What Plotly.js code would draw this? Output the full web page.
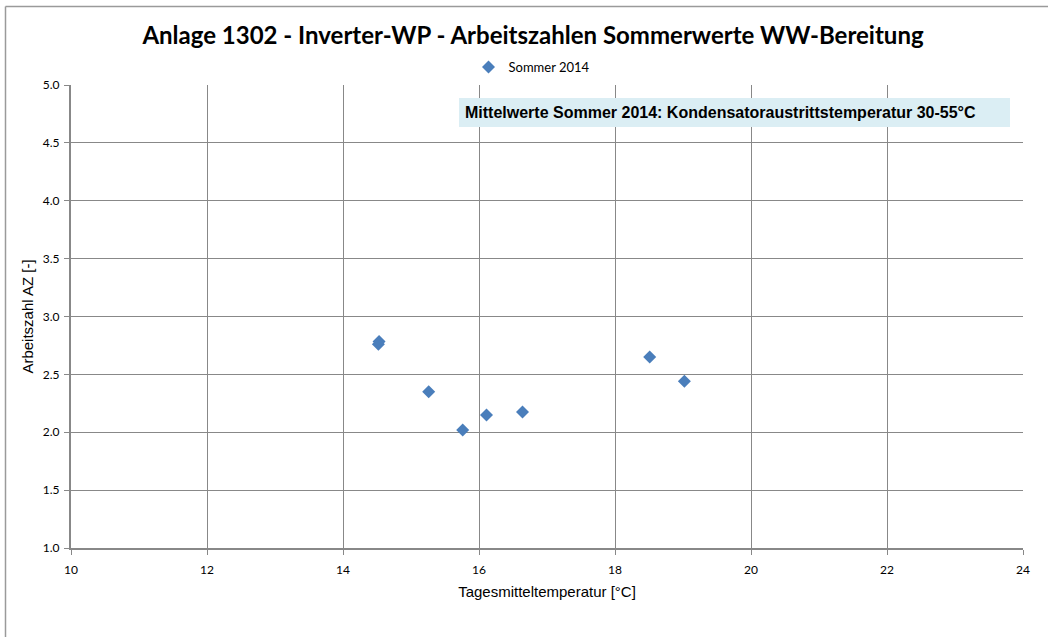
<!DOCTYPE html>
<html>
<head>
<meta charset="utf-8">
<script src="https://cdn.plot.ly/plotly-3.0.1.min.js"></script>
<style>html,body{margin:0;padding:0;background:#fff;}#chart{width:1048px;height:637px;}</style>
</head>
<body>
<div id="chart"></div>
<script>
const seriesName = "Sommer 2014";
const temperature = [14.52, 14.53, 15.26, 15.76, 16.11, 16.64, 18.51, 19.02];
const workFactor = [2.76, 2.785, 2.35, 2.02, 2.15, 2.175, 2.65, 2.44];
const xTicks = [10, 12, 14, 16, 18, 20, 22, 24];
const yTicks = [1.0, 1.5, 2.0, 2.5, 3.0, 3.5, 4.0, 4.5, 5.0];
const titleText = "Anlage 1302 - Inverter-WP - Arbeitszahlen Sommerwerte WW-Bereitung";
const noteText = "Mittelwerte Sommer 2014: Kondensatoraustrittstemperatur 30-55°C";

const W = 1048, H = 637;
const m = {l: 71, r: 25, t: 85, b: 89};
const pw = W - m.l - m.r, ph = H - m.t - m.b;
const px = v => (v - m.l) / pw;
const py = v => 1 - (v - m.t) / ph;

const trace = {
  type: 'scatter', mode: 'markers', name: seriesName,
  x: temperature, y: workFactor,
  marker: {symbol: 'diamond', size: 10, color: '#4A7EBB', line: {width: 0}}
};

const layout = {
  width: W, height: H,
  margin: m,
  paper_bgcolor: '#ffffff', plot_bgcolor: '#ffffff',
  title: {text: '<b>' + titleText + '</b>', x: px(533), xref: 'paper', xanchor: 'center',
          y: 1 - 36/H, yanchor: 'middle',
          font: {family: 'Lato, "Open Sans", sans-serif', size: 24, color: '#000'}},
  showlegend: true,
  legend: {orientation: 'h', x: px(532), xanchor: 'center', y: py(67), yanchor: 'middle',
           font: {family: 'Lato, "Open Sans", sans-serif', size: 13, color: '#000'},
           itemwidth: 30, bgcolor: 'rgba(0,0,0,0)'},
  xaxis: {range: [10, 24], tickvals: xTicks, ticktext: xTicks.map(String),
          showgrid: true, gridcolor: '#888888', gridwidth: 1,
          showline: true, linecolor: '#888888', linewidth: 2,
          ticks: 'outside', ticklen: 5, tickcolor: '#888888',
          zeroline: false, ticklabelstandoff: 5,
          tickfont: {family: 'Lato, "Open Sans", sans-serif', size: 12, color: '#000'},
          title: {text: 'Tagesmitteltemperatur [°C]', standoff: 10,
                  font: {family: 'Arial, "Liberation Sans", sans-serif', size: 15, color: '#000'}}},
  yaxis: {range: [1, 5], tickvals: yTicks, ticktext: yTicks.map(v => v.toFixed(1)),
          showgrid: true, gridcolor: '#888888', gridwidth: 1,
          showline: true, linecolor: '#888888', linewidth: 2,
          ticks: 'outside', ticklen: 5, tickcolor: '#888888',
          zeroline: false, ticklabelstandoff: 2,
          tickfont: {family: 'Lato, "Open Sans", sans-serif', size: 12, color: '#000'},
          title: {text: 'Arbeitszahl AZ [-]', standoff: 6,
                  font: {family: 'Arial, "Liberation Sans", sans-serif', size: 15, color: '#000'}}},
  shapes: [
    {type: 'rect', xref: 'paper', yref: 'paper', x0: px(459), x1: px(1010), y0: py(127), y1: py(98),
     fillcolor: '#DBEEF4', line: {width: 0}, layer: 'above'},
    {type: 'line', xref: 'paper', yref: 'paper', x0: px(5.5), x1: px(1050), y0: py(6.5), y1: py(6.5),
     line: {color: '#9a9a9a', width: 1.5}},
    {type: 'line', xref: 'paper', yref: 'paper', x0: px(5.5), x1: px(5.5), y0: py(6.5), y1: py(640),
     line: {color: '#9a9a9a', width: 1.5}}
  ],
  annotations: [
    {text: '<b>' + noteText + '</b>', xref: 'paper', yref: 'paper', x: px(463), y: py(112.5),
     xanchor: 'left', yanchor: 'middle', showarrow: false,
     font: {family: 'Arial, "Liberation Sans", sans-serif', size: 16, color: '#000'}}
  ]
};

Plotly.newPlot('chart', [trace], layout, {displayModeBar: false, staticPlot: true});
</script>
</body>
</html>
